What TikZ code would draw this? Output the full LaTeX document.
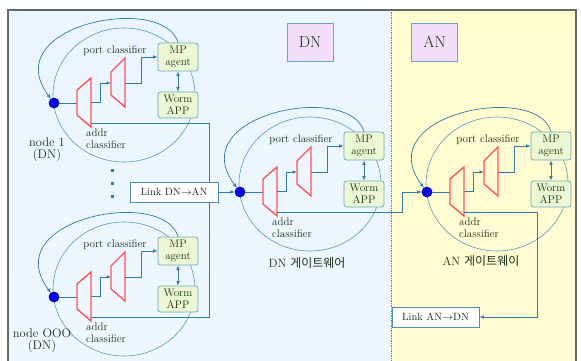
\documentclass[tikz,border=0pt]{standalone}
\usepackage{fontspec}
\usetikzlibrary{arrows.meta,calc,positioning}
\newfontfamily\krfont{Noto Sans CJK KR}
\definecolor{lineblue}{RGB}{50,122,168}
\definecolor{ringblue}{RGB}{88,152,192}
\definecolor{trapred}{RGB}{255,84,84}
\definecolor{boxfill}{RGB}{236,248,212}
\definecolor{boxline}{RGB}{108,170,182}
\definecolor{txtgreen}{RGB}{22,50,22}
\definecolor{tagfill}{RGB}{242,222,250}
\definecolor{dnback}{RGB}{234,245,255}
\definecolor{anback}{RGB}{255,252,206}
\definecolor{dotblue}{RGB}{8,8,235}
\tikzset{
  wire/.style={draw=lineblue, line width=0.7pt},
  feed/.style={wire, -{Latex[length=4.5pt,width=3.5pt]}},
  ring/.style={draw=ringblue, line width=0.6pt},
  trap/.style={draw=trapred, line width=1.4pt, line join=miter},
  agentbox/.style={draw=boxline, fill=boxfill, rounded corners=2.5pt,
    minimum width=40pt, line width=0.7pt, align=center, text=txtgreen,
    font=\fontsize{11}{12}\selectfont, inner sep=1pt},
  portdot/.style={circle, fill=dotblue, draw=blue!70!black, minimum size=10pt, inner sep=0pt},
  linkbox/.style={draw=lineblue!85, fill=white, line width=0.7pt, minimum height=20pt,
    text=txtgreen, font=\fontsize{10.5}{12}\selectfont},
  tagbox/.style={draw=lineblue!70, fill=tagfill, line width=0.7pt, minimum width=46pt,
    minimum height=38pt, text=txtgreen, font=\fontsize{16}{18}\selectfont},
  lbl/.style={text=txtgreen, font=\fontsize{11}{12}\selectfont, inner sep=1pt},
  namelbl/.style={text=txtgreen, font=\fontsize{12.5}{12}\selectfont, align=center},
}
% one node / gateway: dot, ring, two classifiers, agent and worm boxes
\newcommand{\gwunit}[3]{%
  \begin{scope}[shift={(#2,#3)}]
    \draw[ring] (70,-8) ellipse [x radius=71, y radius=67];
    \node[portdot] (#1-dot) at (0,0) {};
    \coordinate (#1-ain) at (23,0);
    \coordinate (#1-aout) at (37,-1);
    \coordinate (#1-pin) at (57,-20);
    \coordinate (#1-pout) at (71,-20);
    \coordinate (#1-out) at (37,20);
    \node[agentbox, minimum height=28pt] (#1-mp) at (124,-46) {MP\\agent};
    \node[agentbox, minimum height=26pt] (#1-worm) at (124,2) {Worm\\APP};
    \draw[feed] (#1-mp.north) .. controls +(-14,-50) and +(-58,-78) .. (#1-dot);
    \draw[wire] (#1-dot) -- (#1-ain);
    \draw[feed] (#1-aout) -- ++(9,0) |- (#1-pin);
    \draw[feed] (#1-pout) -- ++(16,0) |- (#1-mp.west);
    \draw[wire, {Latex[length=4.5pt,width=3.5pt]}-{Latex[length=4.5pt,width=3.5pt]}] (#1-mp) -- (#1-worm);
    \draw[trap] (23,-13) -- (37,-25) -- (37,24) -- (23,12) -- cycle;
    \draw[trap] (57,-31) -- (71,-45) -- (71,4) -- (57,-8) -- cycle;
    \node[portdot] at (#1-dot) {};
    \node[lbl] (#1-plbl) at (61,-52) {port classifier};
    \node[lbl, align=left, anchor=north west] (#1-albl) at (31,25) {addr\\classifier};
  \end{scope}}

\begin{document}
\begin{tikzpicture}[x=1pt, y=-1pt]
  \useasboundingbox (0,0) rectangle (581,361);
  % backgrounds
  \fill[white] (0,0) rectangle (581,361);
  \shade[top color=dnback, bottom color=dnback!80!white] (8,10) rectangle (391,361);
  \shade[top color=anback, bottom color=anback!85!white] (391,10) rectangle (576,361);
  \draw[gray, line width=0.5pt, dash pattern=on 1.5pt off 1pt] (391,10) -- (391,361);
  \draw[black!60, line width=1.6pt] (8,362) -- (8,10) -- (576,10) -- (576,362);

  \node[tagbox] (dntag) at (310,42) {DN};
  \node[tagbox] (antag) at (434.5,42) {AN};

  % DN nodes
  \gwunit{n1}{54}{103}
  \gwunit{nk}{54}{297}
  \node[namelbl] (n1name) at (47,150) {node 1\\(DN)};
  \node[namelbl] (nkname) at (42,341) {node OOO\\(DN)};
  \foreach \y in {170,183,196}
    \fill[lineblue] (110.5,\y-1.5) rectangle (113.5,\y+1.5);

  \coordinate (bus) at (209,123);
  \draw[wire] (n1-out) -- (bus) |- (nk-out);
  \node[linkbox, minimum width=88pt] (linkdn) at (174,192) {Link DN$\rightarrow$AN};

  % gateways
  \gwunit{dn}{240}{192}
  \gwunit{an}{427}{192}
  \node[text=txtgreen, font=\fontsize{12}{14}\selectfont] (dnname) at (307,263) {DN {\krfont 게이트웨어}};
  \node[text=txtgreen, font=\fontsize{12}{14}\selectfont] (anname) at (481,261) {AN {\krfont 게이트웨이}};

  \draw[feed] (linkdn) -- (dn-dot);
  \coordinate (dnturn) at (402,212);
  \draw[feed] (dn-out) -- (dnturn) |- (an-dot);
  \node[linkbox, minimum width=87pt] (linkan) at (435.5,317) {Link AN$\rightarrow$DN};
  \coordinate (anturn) at (537,212);
  \draw[feed] (an-out) -- (anturn) |- (linkan);
\end{tikzpicture}
\end{document}
